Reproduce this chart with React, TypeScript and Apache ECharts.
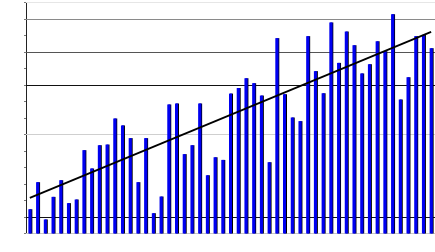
import React, { useEffect, useRef } from "react";
import * as echarts from "echarts";

const categories: string[] = Array.from({ length: 53 }, (_, i) => String(i + 1));
const values: number[] = [
  1.47, 3.11, 0.85, 2.22, 3.23, 1.84, 2.06, 5.05, 3.94, 5.35,
  5.39, 6.97, 6.55, 5.78, 3.11, 5.78, 1.23, 2.24, 7.82, 7.88,
  4.81, 5.35, 7.88, 3.53, 4.62, 4.46, 8.48, 8.82, 9.41, 9.11,
  8.36, 4.32, 11.84, 8.44, 7.03, 6.81, 11.96, 9.84, 8.5, 12.79,
  10.34, 12.24, 11.41, 9.7, 10.26, 11.65, 11.05, 13.29, 8.12, 9.47,
  11.96, 12.04, 11.23,
];
const trendStart: number = 2.16;
const trendEnd: number = 12.22;
const gridLineValues: number[] = [1, 6, 9, 11, 13, 14];
const gridLineColors: string[] = ["#111111", "#cfcfcf", "#111111", "#555555", "#8a8a8a", "#e6e6e6"];

export default function App() {
  const ref = useRef<HTMLDivElement>(null);
  useEffect(() => {
    if (!ref.current) return;
    const chart = echarts.init(ref.current, null, { renderer: "svg" });
    chart.setOption({
      animation: false,
      grid: { left: 26, right: 0, top: 2.5, bottom: 18.5 },
      xAxis: {
        type: "category",
        data: categories,
        boundaryGap: true,
        axisLine: { show: true, lineStyle: { color: "#c8c8c8", width: 1 } },
        axisTick: { show: false },
        axisLabel: { show: false },
        splitLine: { show: false },
      },
      yAxis: {
        type: "value",
        min: 0,
        max: 14,
        interval: 1,
        axisLine: { show: true, lineStyle: { color: "#222222", width: 1 } },
        axisTick: { show: true, length: 2, lineStyle: { color: "#777777" } },
        axisLabel: { show: false },
        splitLine: { show: false },
      },
      series: [
        {
          type: "bar",
          data: values,
          barWidth: 3,
          itemStyle: {
            color: "#0000f0",
            shadowColor: "#000000",
            shadowOffsetX: 1,
            shadowOffsetY: 0,
            shadowBlur: 0,
          },
          markLine: {
            silent: true,
            symbol: "none",
            label: { show: false },
            z: 1,
            data: gridLineValues.map((v, i) => ({
              yAxis: v,
              lineStyle: { color: gridLineColors[i], width: 1.2, type: "solid" },
            })),
          },
          z: 2,
        },
        {
          type: "line",
          data: [
            [0, trendStart],
            [categories.length - 1, trendEnd],
          ],
          symbol: "none",
          lineStyle: { color: "#000000", width: 1.8 },
          z: 5,
        },
      ],
    });
    return () => chart.dispose();
  }, []);
  return (
    <div
      ref={ref}
      style={{ position: "fixed", left: 0, top: 0, width: 435, height: 252, background: "#ffffff" }}
    />
  );
}
